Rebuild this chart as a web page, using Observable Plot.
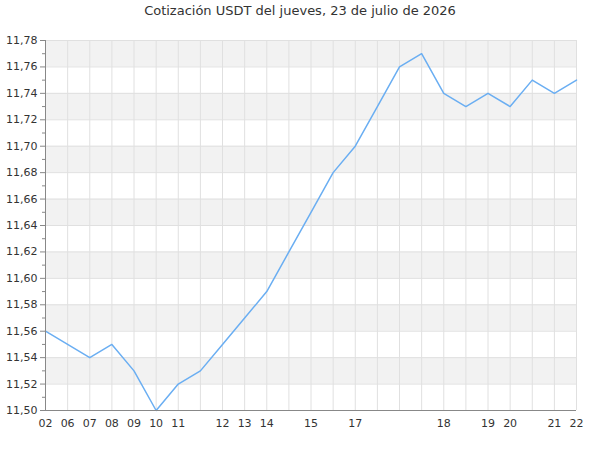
<!DOCTYPE html>
<html><head><meta charset="utf-8">
<script src="https://cdn.jsdelivr.net/npm/d3@7"></script>
<script src="https://cdn.jsdelivr.net/npm/@observablehq/plot@0.6"></script>
<style>
body{margin:0;background:#fff;font-family:"DejaVu Sans",sans-serif;}
#title{height:28px;box-sizing:border-box;padding-top:3px;text-align:center;font-size:13px;line-height:16px;color:#333;}
</style></head>
<body>
<div id="title">Cotización USDT del jueves, 23 de julio de 2026</div>
<div id="chart"></div>
<script>
const pointLabels = ["02","06","07","08","09","10","11","","12","13","14","","15","","17","","","","18","","19","20","","21","22"];
const values = [11.56,11.55,11.54,11.55,11.53,11.50,11.52,11.53,11.55,11.57,11.59,11.62,11.65,11.68,11.70,11.73,11.76,11.77,11.74,11.73,11.74,11.73,11.75,11.74,11.75];
const yMajorTicks = [11.50,11.52,11.54,11.56,11.58,11.60,11.62,11.64,11.66,11.68,11.70,11.72,11.74,11.76,11.78];
const bandStarts = [11.52,11.56,11.60,11.64,11.68,11.72,11.76];

const data = values.map((v,i)=>({i, v, label: pointLabels[i]}));
const idx = data.map(d=>d.i);
const labeledIdx = data.filter(d=>d.label!=="").map(d=>d.i);
const yMinorTicks = yMajorTicks.slice(0,-1).map(t=>+(t+0.01).toFixed(2));
const fmt = d => d.toFixed(2).replace(".", ",");

const chart = Plot.plot({
  width: 600,
  height: 422,
  marginTop: 12,
  marginBottom: 40,
  marginLeft: 45,
  marginRight: 24,
  style: {fontFamily: "DejaVu Sans, sans-serif", fontSize: "11px", color: "#333", background: "#fff"},
  x: {domain: [0, values.length-1]},
  y: {domain: [11.50, 11.78]},
  marks: [
    Plot.rectY(bandStarts, {x1: 0, x2: values.length-1, y1: d=>d, y2: d=>+(d+0.02).toFixed(2), fill: "#f2f2f2"}),
    Plot.ruleY(yMajorTicks.slice(1), {stroke: "#e0e0e0", strokeWidth: 1}),
    Plot.ruleX(idx.slice(1), {stroke: "#e0e0e0", strokeWidth: 1}),
    Plot.line(data, {x: "i", y: "v", stroke: "#6aaef2", strokeWidth: 1.5}),
    Plot.axisY(yMinorTicks, {tickSize: 3, tickFormat: null, stroke: "#888", text: null, label: null}),
    Plot.axisY(yMajorTicks, {tickSize: 5, tickFormat: fmt, stroke: "#888", fill: "#333", tickPadding: 3, label: null}),
    Plot.ruleX([0], {stroke: "#888"}),
    Plot.ruleY([11.50], {stroke: "#888"}),
    Plot.axisX(labeledIdx, {tickSize: 0, tickPadding: 9, tickFormat: i => pointLabels[i], fill: "#333", label: null})
  ]
});
document.getElementById("chart").appendChild(chart);
</script>
</body></html>
